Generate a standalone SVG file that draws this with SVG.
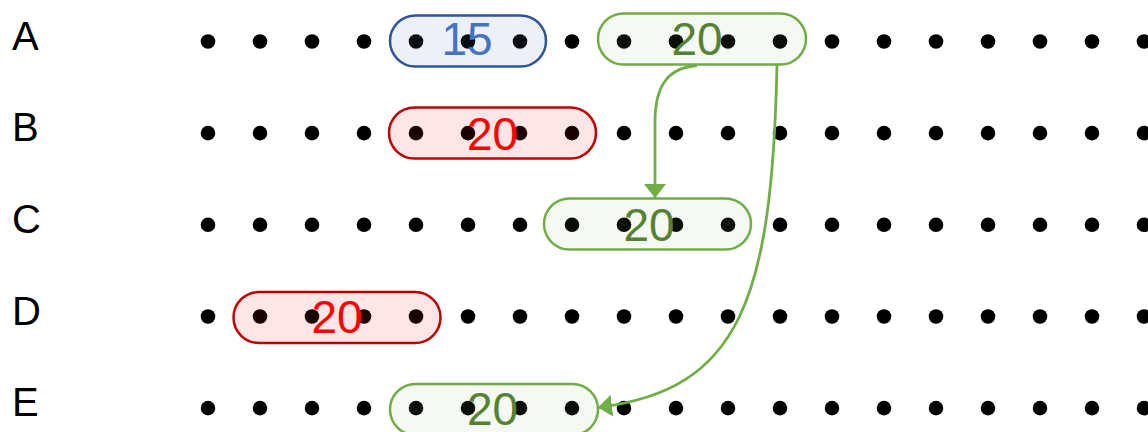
<svg xmlns="http://www.w3.org/2000/svg" width="1148" height="432" viewBox="0 0 1148 432">
  <style>
    .row { font-family: "Liberation Sans", Arial, sans-serif; font-size: 40px; fill: #000; }
    .dot { fill: #000; }
    .pill { stroke-width: 2.5; }
    .val { font-family: "Liberation Sans", Arial, sans-serif; font-size: 46px; text-anchor: middle; }
    .blue .pill { stroke: #2f5597; fill: #4472c4; fill-opacity: 0.1; }
    .blue .val { fill: #4472c4; }
    .red .pill { stroke: #c00000; fill: #ff0000; fill-opacity: 0.1; }
    .red .val { fill: #ff0000; }
    .green .pill { stroke: #70ad47; fill: #70ad47; fill-opacity: 0.08; }
    .green .val { fill: #548235; }
    .link { fill: none; stroke: #70ad47; stroke-width: 2.8; }
  </style>
  <defs>
    <marker id="head" viewBox="0 0 14 22" refX="14" refY="11" markerWidth="14" markerHeight="22" markerUnits="userSpaceOnUse" orient="auto">
      <path d="M0,0 L14,11 L0,22 Z" fill="#70ad47"/>
    </marker>
  </defs>

  <rect width="1148" height="432" fill="#fff"/>

  <!-- row labels -->
  <g id="row-labels">
    <text class="row" x="12" y="49.5">A</text>
    <text class="row" x="12" y="141">B</text>
    <text class="row" x="12" y="233">C</text>
    <text class="row" x="12" y="324.5">D</text>
    <text class="row" x="12" y="416">E</text>
  </g>

  <!-- dot grid: 19 columns, 5 rows -->
  <g id="grid" class="dot">
    <g id="grid-row-a">
      <circle cx="208" cy="41.5" r="7.3"/><circle cx="260" cy="41.5" r="7.3"/><circle cx="312" cy="41.5" r="7.3"/><circle cx="364" cy="41.5" r="7.3"/><circle cx="416" cy="41.5" r="7.3"/><circle cx="468" cy="41.5" r="7.3"/><circle cx="520" cy="41.5" r="7.3"/><circle cx="572" cy="41.5" r="7.3"/><circle cx="624" cy="41.5" r="7.3"/><circle cx="676" cy="41.5" r="7.3"/><circle cx="728" cy="41.5" r="7.3"/><circle cx="780" cy="41.5" r="7.3"/><circle cx="832" cy="41.5" r="7.3"/><circle cx="884" cy="41.5" r="7.3"/><circle cx="936" cy="41.5" r="7.3"/><circle cx="988" cy="41.5" r="7.3"/><circle cx="1040" cy="41.5" r="7.3"/><circle cx="1092" cy="41.5" r="7.3"/><circle cx="1144" cy="41.5" r="7.3"/>
    </g>
    <use href="#grid-row-a" y="91.6"/>
    <use href="#grid-row-a" y="183.3"/>
    <use href="#grid-row-a" y="275"/>
    <use href="#grid-row-a" y="366.6"/>
  </g>

  <!-- row A -->
  <g id="node-a15" class="blue">
    <rect class="pill" x="390" y="15.5" width="156" height="51" rx="25.5"/>
    <text class="val" x="467" y="55">15</text>
  </g>
  <g id="node-a20" class="green">
    <rect class="pill" x="598" y="13.5" width="208" height="51" rx="25.5"/>
    <text class="val" x="697" y="55">20</text>
  </g>

  <!-- row B -->
  <g id="node-b20" class="red">
    <rect class="pill" x="389" y="107.5" width="207" height="51" rx="25.5"/>
    <text class="val" x="492.5" y="149.5">20</text>
  </g>

  <!-- row C -->
  <g id="node-c20" class="green">
    <rect class="pill" x="544" y="198.5" width="207" height="51" rx="25.5"/>
    <text class="val" x="649" y="241">20</text>
  </g>

  <!-- row D -->
  <g id="node-d20" class="red">
    <rect class="pill" x="233.5" y="292" width="207" height="51" rx="25.5"/>
    <text class="val" x="337" y="333">20</text>
  </g>

  <!-- row E -->
  <g id="node-e20" class="green">
    <rect class="pill" x="390" y="384" width="208" height="51" rx="25.5"/>
    <text class="val" x="492.5" y="424.5">20</text>
  </g>

  <!-- connectors -->
  <g id="connectors">
    <path class="link" d="M697,65.5 C666,68 655,88 655,122 L655,198" marker-end="url(#head)"/>
    <path class="link" d="M777,64.5 C772,300 740,390 598,407.5" marker-end="url(#head)"/>
  </g>
</svg>
